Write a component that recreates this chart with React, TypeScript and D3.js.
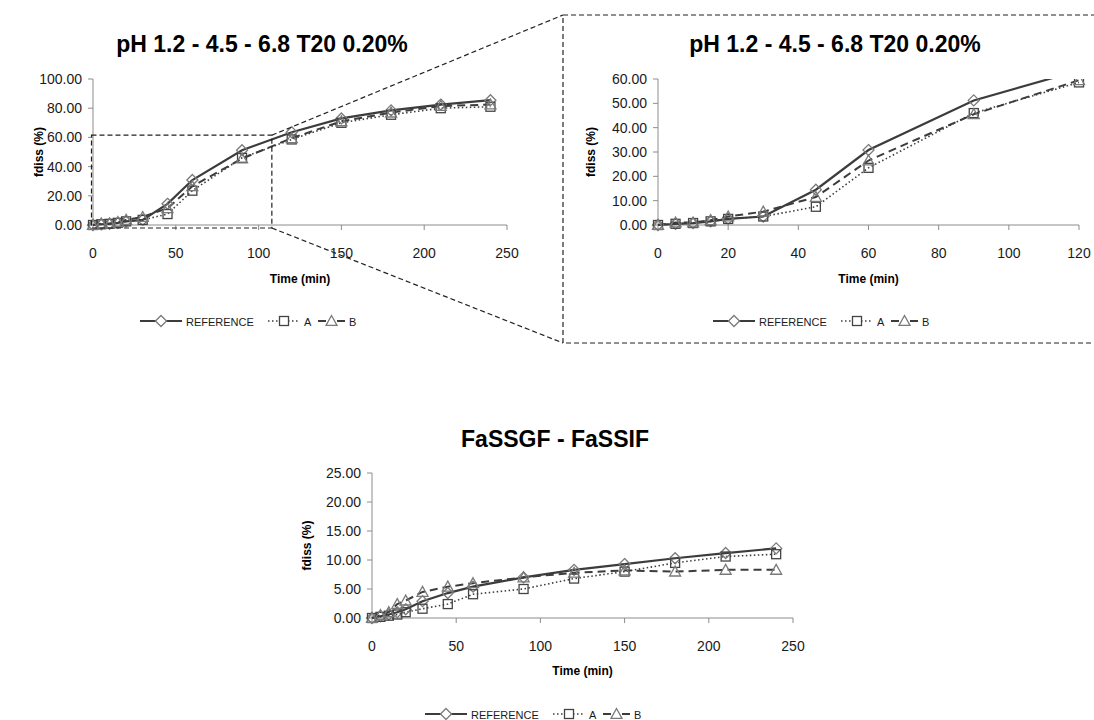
import React, { useEffect, useRef } from "react";
import * as d3 from "d3";

const TIMES = [0, 5, 10, 15, 20, 30, 45, 60, 90, 120, 150, 180, 210, 240];
const REF_PH = [0, 0.5, 0.8, 1.5, 2.5, 3.5, 14.5, 30.8, 51.2, 63.5, 73, 78.5, 82.5, 85.5];
const A_PH = [0, 0.5, 0.8, 1.5, 2.5, 3.5, 7.5, 23.5, 46, 58.6, 70, 75.5, 80, 81];
const B_PH = [0, 1, 1, 2, 3.5, 5.5, 11.5, 26.5, 45.5, 59.5, 71, 77, 81.5, 82.5];
const REF_FA = [0, 0.3, 0.6, 1.0, 1.5, 2.9, 4.3, 5.4, 7.0, 8.3, 9.3, 10.3, 11.2, 12.0];
const A_FA = [0, 0.2, 0.4, 0.6, 1.0, 1.6, 2.4, 4.1, 5.0, 6.8, 8.0, 9.5, 10.6, 11.0];
const B_FA = [0, 0.5, 1.0, 2.4, 3.0, 4.5, 5.4, 6.0, 7.0, 7.8, 8.2, 8.0, 8.3, 8.3];
const SERIES_NAMES = ["REFERENCE", "A", "B"];
const TITLE_PH = "pH 1.2 - 4.5 - 6.8 T20 0.20%";
const TITLE_FA = "FaSSGF - FaSSIF";
const X_TICKS_FULL = [0, 50, 100, 150, 200, 250];
const X_TICKS_ZOOM = [0, 20, 40, 60, 80, 100, 120];
const Y_TICKS_PH = [0, 20, 40, 60, 80, 100];
const Y_TICKS_ZOOM = [0, 10, 20, 30, 40, 50, 60];
const Y_TICKS_FA = [0, 5, 10, 15, 20, 25];

const FONT = "'Liberation Sans', Arial, sans-serif";
const LINE = "#3c3c3c";
const MARK = "#7a7a7a";

type Cfg = {
  x0: number; x1: number; y0: number; y1: number;
  xDom: [number, number]; yDom: [number, number];
  xTicks: number[]; yTicks: number[];
  series: number[][];
  title: string; titleX: number; titleY: number;
  yLabX: number; xLabY: number;
  legendX: number; legendY: number;
  clipId: string;
};

function drawChart(svg: d3.Selection<SVGSVGElement, unknown, null, undefined>, c: Cfg) {
  const x = d3.scaleLinear().domain(c.xDom).range([c.x0, c.x1]);
  const y = d3.scaleLinear().domain(c.yDom).range([c.y0, c.y1]);
  const g = svg.append("g");

  g.append("defs").append("clipPath").attr("id", c.clipId)
    .append("rect").attr("x", c.x0 - 8).attr("y", c.y1).attr("width", c.x1 - c.x0 + 16).attr("height", c.y0 - c.y1 + 10);

  // axes
  g.append("line").attr("x1", c.x0).attr("x2", c.x0).attr("y1", c.y1).attr("y2", c.y0).attr("stroke", "#8c8c8c");
  g.append("line").attr("x1", c.x0).attr("x2", c.x1).attr("y1", c.y0).attr("y2", c.y0).attr("stroke", "#8c8c8c");
  c.yTicks.forEach((t) => {
    g.append("line").attr("x1", c.x0 - 5).attr("x2", c.x0).attr("y1", y(t)).attr("y2", y(t)).attr("stroke", "#8c8c8c");
    g.append("text").attr("x", c.x0 - 11).attr("y", y(t) + 5).attr("text-anchor", "end")
      .attr("font-size", 14).attr("font-family", FONT).attr("fill", "#1a1a1a").text(t.toFixed(2));
  });
  c.xTicks.forEach((t) => {
    g.append("line").attr("x1", x(t)).attr("x2", x(t)).attr("y1", c.y0).attr("y2", c.y0 + 5).attr("stroke", "#8c8c8c");
    g.append("text").attr("x", x(t)).attr("y", c.y0 + 33).attr("text-anchor", "middle")
      .attr("font-size", 14).attr("font-family", FONT).attr("fill", "#1a1a1a").text(String(t));
  });

  // titles
  g.append("text").attr("x", c.titleX).attr("y", c.titleY).attr("text-anchor", "middle")
    .attr("font-size", 23).attr("font-weight", "bold").attr("font-family", FONT).attr("fill", "#000").text(c.title);
  g.append("text").attr("x", (c.x0 + c.x1) / 2).attr("y", c.xLabY).attr("text-anchor", "middle")
    .attr("font-size", 12).attr("font-weight", "bold").attr("font-family", FONT).attr("fill", "#000").text("Time (min)");
  g.append("text").attr("transform", `translate(${c.yLabX},${(c.y0 + c.y1) / 2}) rotate(-90)`).attr("text-anchor", "middle")
    .attr("font-size", 12).attr("font-weight", "bold").attr("font-family", FONT).attr("fill", "#000").text("fdiss (%)");

  const styles = [
    { dash: null as string | null, width: 2.2, marker: "diamond" },
    { dash: "1.5,2.5", width: 1.6, marker: "square" },
    { dash: "8,5", width: 2, marker: "triangle" },
  ];
  const plot = g.append("g").attr("clip-path", `url(#${c.clipId})`);
  c.series.forEach((vals, i) => {
    const pts = TIMES.map((t, k) => [t, vals[k]] as [number, number]).filter((p) => p[0] <= c.xDom[1]);
    const line = d3.line<[number, number]>().x((d) => x(d[0])).y((d) => y(d[1]));
    const p = plot.append("path").attr("d", line(pts)).attr("fill", "none").attr("stroke", LINE).attr("stroke-width", styles[i].width);
    if (styles[i].dash) p.attr("stroke-dasharray", styles[i].dash);
  });
  c.series.forEach((vals, i) => {
    const pts = TIMES.map((t, k) => [t, vals[k]] as [number, number]).filter((p) => p[0] <= c.xDom[1]);
    pts.forEach((d) => drawMarker(plot, styles[i].marker, x(d[0]), y(d[1])));
  });

  // legend
  const lx = c.legendX, ly = c.legendY;
  const items = [
    { x: lx, len: 42, text: SERIES_NAMES[0] },
    { x: lx + 128, len: 32, text: SERIES_NAMES[1] },
    { x: lx + 178, len: 27, text: SERIES_NAMES[2] },
  ];
  items.forEach((it, i) => {
    const l = g.append("line").attr("x1", it.x).attr("x2", it.x + it.len).attr("y1", ly).attr("y2", ly)
      .attr("stroke", LINE).attr("stroke-width", styles[i].width);
    if (styles[i].dash) l.attr("stroke-dasharray", i === 2 ? "8,11" : styles[i].dash);
    drawMarker(g, styles[i].marker, it.x + it.len / 2, ly, true);
    g.append("text").attr("x", it.x + it.len + 4).attr("y", ly + 4.5).attr("font-size", 11)
      .attr("font-family", FONT).attr("fill", "#1a1a1a").text(it.text);
  });
}

function drawMarker(g: any, kind: string, cx: number, cy: number, white = false) {
  const fill = white ? "#fff" : "none";
  if (kind === "diamond") {
    const s = 5.5;
    g.append("path").attr("d", `M${cx},${cy - s}L${cx + s},${cy}L${cx},${cy + s}L${cx - s},${cy}Z`)
      .attr("fill", fill).attr("stroke", MARK).attr("stroke-width", 1.3);
  } else if (kind === "square") {
    const s = 4.5;
    g.append("rect").attr("x", cx - s).attr("y", cy - s).attr("width", 2 * s).attr("height", 2 * s)
      .attr("fill", fill).attr("stroke", "#444").attr("stroke-width", 1.3);
  } else {
    const s = 5.5;
    g.append("path").attr("d", `M${cx},${cy - s}L${cx + s},${cy + s * 0.8}L${cx - s},${cy + s * 0.8}Z`)
      .attr("fill", fill).attr("stroke", MARK).attr("stroke-width", 1.3);
  }
}

export default function App() {
  const ref = useRef<SVGSVGElement>(null);
  useEffect(() => {
    const svg = d3.select(ref.current!);
    svg.selectAll("*").remove();

    drawChart(svg, {
      x0: 93, x1: 507, y0: 225, y1: 79, xDom: [0, 250], yDom: [0, 100],
      xTicks: X_TICKS_FULL, yTicks: Y_TICKS_PH, series: [REF_PH, A_PH, B_PH],
      title: TITLE_PH, titleX: 262, titleY: 52, yLabX: 43, xLabY: 283,
      legendX: 140, legendY: 321, clipId: "c1",
    });
    drawChart(svg, {
      x0: 658, x1: 1079, y0: 225, y1: 79, xDom: [0, 120], yDom: [0, 60],
      xTicks: X_TICKS_ZOOM, yTicks: Y_TICKS_ZOOM, series: [REF_PH, A_PH, B_PH],
      title: TITLE_PH, titleX: 835, titleY: 52, yLabX: 595, xLabY: 283,
      legendX: 713, legendY: 321, clipId: "c2",
    });
    drawChart(svg, {
      x0: 372, x1: 793, y0: 618, y1: 473, xDom: [0, 250], yDom: [0, 25],
      xTicks: X_TICKS_FULL, yTicks: Y_TICKS_FA, series: [REF_FA, A_FA, B_FA],
      title: TITLE_FA, titleX: 555, titleY: 447, yLabX: 311, xLabY: 675,
      legendX: 425, legendY: 714, clipId: "c3",
    });

    // zoom annotation
    const x = d3.scaleLinear().domain([0, 250]).range([93, 507]);
    const y = d3.scaleLinear().domain([0, 100]).range([225, 79]);
    const bx0 = x(0) - 1.5, bx1 = x(108), by0 = y(61.5), by1 = y(0) + 3;
    const ann = svg.append("g").attr("fill", "none").attr("stroke", "#222").attr("stroke-width", 1.2).attr("stroke-dasharray", "5,3");
    ann.append("rect").attr("x", bx0).attr("y", by0).attr("width", bx1 - bx0).attr("height", by1 - by0);
    ann.append("line").attr("x1", bx1).attr("y1", by0).attr("x2", 563).attr("y2", 15);
    ann.append("line").attr("x1", bx1).attr("y1", by1).attr("x2", 563).attr("y2", 343);
    ann.append("rect").attr("x", 563).attr("y", 15).attr("width", 600).attr("height", 328);
  }, []);
  return (
    <svg ref={ref} width={1094} height={720} style={{ position: "absolute", left: 0, top: 0, background: "#fff" }} />
  );
}
